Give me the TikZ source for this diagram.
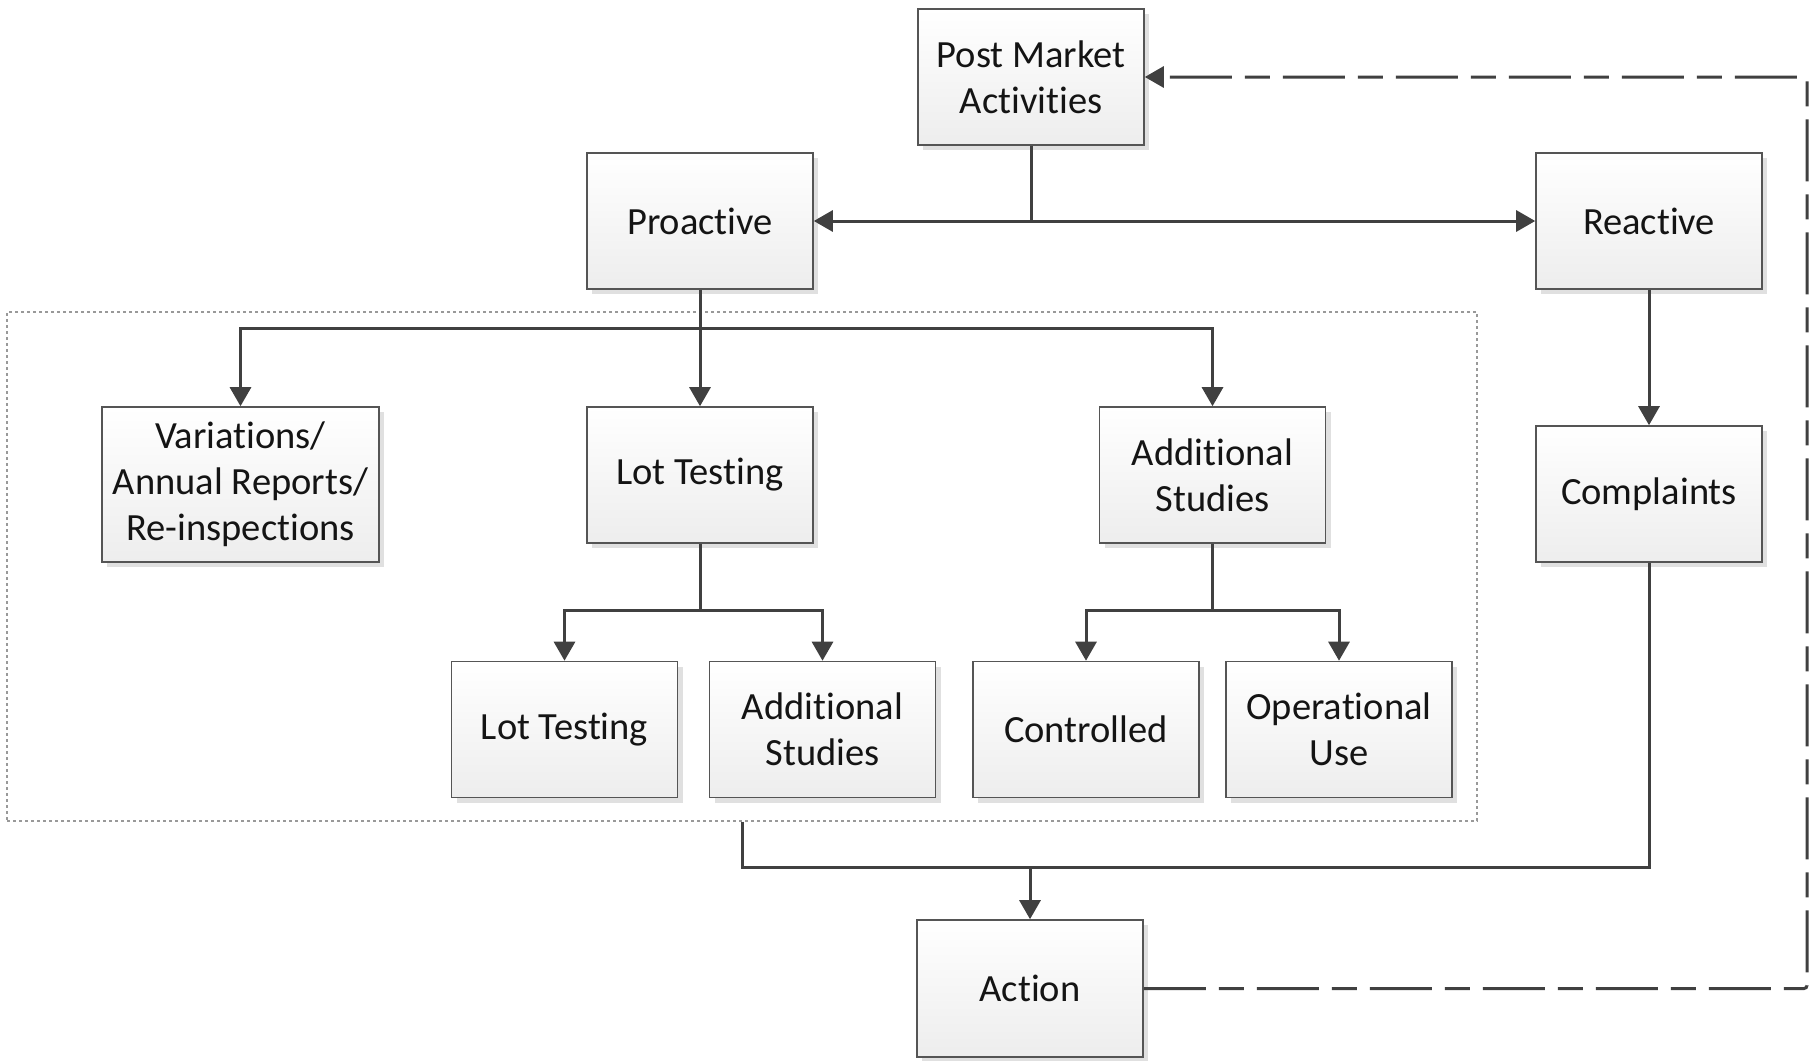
\documentclass[tikz,border=0pt]{standalone}
\usepackage{fontspec}
\setmainfont[Ligatures={NoCommon}]{Carlito}
\usetikzlibrary{arrows.meta,shadows}
\definecolor{linec}{HTML}{404040}
\definecolor{borderc}{HTML}{555555}
\definecolor{txtc}{HTML}{141414}
\tikzset{
  boxnode/.style={rectangle, draw=borderc, line width=1.6pt, top color=white, bottom color=black!7,
    minimum width=226pt, minimum height=136pt, align=center, text=txtc, inner sep=0pt,
    font=\fontsize{38.5}{46}\selectfont,
    drop shadow={shadow xshift=5pt, shadow yshift=-5pt, fill=black!12, opacity=1}},
  conn/.style={draw=linec, line width=3pt},
  arrowc/.style={conn, -{Triangle[length=19pt,width=21pt]}},
  dashc/.style={draw=linec, line width=3pt, dash pattern=on 62pt off 13pt on 25pt off 13pt, rounded corners=3pt},
  grpbox/.style={rectangle, draw=black!40, line width=1.3pt, dash pattern=on 3pt off 3pt, inner sep=0pt}
}
\begin{document}
\begin{tikzpicture}[x=1pt,y=-1pt]
\path[use as bounding box, fill=white] (0,0) rectangle (1820,1060);
\node[grpbox, minimum width=1470pt, minimum height=509pt] (grp) at (742,566.5) {};
\node[boxnode] (pm) at (1031,77) {Post Market\\Activities};
\node[boxnode] (pro) at (700,221) {Proactive};
\node[boxnode] (rea) at (1649,221) {Reactive};
\node[boxnode, minimum width=277pt, minimum height=155pt] (var) at (240.5,484.5) {Variations/\\Annual Reports/\\Re-inspections};
\node[boxnode] (lt1) at (700,475) {Lot Testing};
\node[boxnode] (as1) at (1212.5,475) {Additional\\Studies};
\node[boxnode] (com) at (1649,494) {Complaints};
\node[boxnode] (lt2) at (564.5,729.5) {Lot Testing};
\node[boxnode] (as2) at (822.5,729.5) {Additional\\Studies};
\node[boxnode] (ctl) at (1086,729.5) {Controlled};
\node[boxnode] (opu) at (1339,729.5) {Operational\\Use};
\node[boxnode, minimum height=137pt] (act) at (1030,988.5) {Action};
% top split
\coordinate (j1) at (pm.south |- pro.east);
\draw[conn] (pm.south) -- (j1);
\draw[arrowc] (j1) -- (pro.east);
\draw[arrowc] (j1) -- (rea.west);
% proactive branches
\coordinate (j2) at (700,328);
\draw[arrowc] (pro.south) -- (lt1.north);
\draw[arrowc] (j2) -| (var.north);
\draw[arrowc] (j2) -| (as1.north);
% reactive
\draw[arrowc] (rea.south) -- (com.north);
% lot testing branches
\coordinate (j3) at (lt1.south |- 0,610.5);
\draw[conn] (lt1.south) -- (j3);
\draw[arrowc] (j3) -| (lt2.north);
\draw[arrowc] (j3) -| (as2.north);
% additional studies branches
\coordinate (j4) at (as1.south |- 0,610.5);
\draw[conn] (as1.south) -- (j4);
\draw[arrowc] (j4) -| (ctl.north);
\draw[arrowc] (j4) -| (opu.north);
% to action
\coordinate (j5) at (grp.south |- 0,867);
\draw[conn] (grp.south) -- (j5) -| (com.south);
\draw[arrowc] (act.north |- j5) -- (act.north);
% feedback
\coordinate (fb) at (1807,0);
\draw[dashc, -{Triangle[length=19pt,width=21pt]}] (act.east) -- (act.east -| fb) |- (pm.east);
\end{tikzpicture}
\end{document}
